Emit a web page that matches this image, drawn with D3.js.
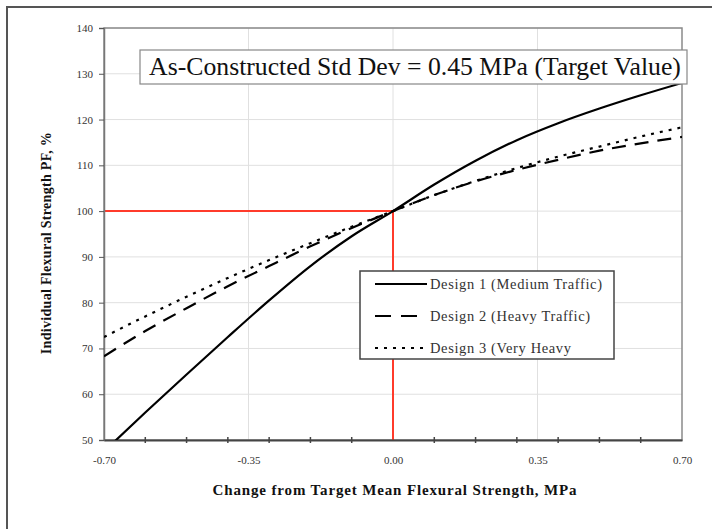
<!DOCTYPE html>
<html>
<head>
<meta charset="utf-8">
<script src="https://d3js.org/d3.v7.min.js"></script>
<style>
body { margin: 0; background: #fff; }
text { font-family: "Liberation Serif", "DejaVu Serif", serif; }
</style>
</head>
<body>
<svg width="712" height="529"></svg>
<script>

// data
var xs = [-0.7, -0.6, -0.5, -0.4, -0.3, -0.2, -0.1, 0, 0.1, 0.2, 0.3, 0.4, 0.5, 0.6, 0.7];
var design1 = [47.5, 56, 64.3, 72.5, 80.5, 88, 94.5, 100, 105.8, 111, 115.5, 119.2, 122.4, 125.3, 128];
var design2 = [68.3, 73.8, 78.8, 83.6, 88, 92.3, 96.3, 100, 103.5, 106.5, 109, 111.2, 113.2, 114.8, 116.2];
var design3 = [72.5, 77, 81.3, 85.4, 89.3, 93, 96.6, 100, 103.5, 106.6, 109.4, 111.9, 114.1, 116.3, 118.3];
var seriesNames = ["Design 1 (Medium Traffic)", "Design 2 (Heavy Traffic)", "Design 3 (Very Heavy"];
var xTickLabels = [-0.70, -0.35, 0.00, 0.35, 0.70];
var xMinorTicks = [-0.6, -0.5, -0.4, -0.3, -0.2, -0.1, 0.1, 0.2, 0.3, 0.4, 0.5, 0.6];
var yTicks = [50, 60, 70, 80, 90, 100, 110, 120, 130, 140];
var titleText = "As-Constructed Std Dev = 0.45 MPa (Target Value)";

var svg = d3.select("svg");
var pLeft = 104, pRight = 682, pTop = 28, pBottom = 440;

var x = d3.scaleLinear().domain([-0.7, 0.7]).range([pLeft, pRight]);
var y = d3.scaleLinear().domain([50, 140]).range([pBottom, pTop]);

// spread letters so a text takes the given width
function spreadTo(sel, target) {
  var n = sel.text().length;
  var w = sel.node().getComputedTextLength();
  var ls = (target - w) / (n - 1);
  sel.style("letter-spacing", ls + "px");
  return ls;
}

// outer frame (only left/top show, rest falls off the picture)
svg.append("rect")
  .attr("x", 7).attr("y", 7).attr("width", 740).attr("height", 560)
  .attr("fill", "none").attr("stroke", "#555").attr("stroke-width", 2);

// gridlines
svg.append("g").selectAll("line").data(yTicks.slice(1))
  .enter().append("line")
  .attr("x1", pLeft).attr("x2", pRight)
  .attr("y1", d => y(d)).attr("y2", d => y(d))
  .attr("stroke", "#e0e0e0").attr("stroke-width", 1);
svg.append("g").selectAll("line").data(xTickLabels.slice(1, -1))
  .enter().append("line")
  .attr("x1", d => x(d)).attr("x2", d => x(d))
  .attr("y1", pTop).attr("y2", pBottom)
  .attr("stroke", "#e0e0e0").attr("stroke-width", 1);

// plot border
svg.append("rect")
  .attr("x", pLeft).attr("y", pTop).attr("width", pRight - pLeft).attr("height", pBottom - pTop)
  .attr("fill", "none").attr("stroke", "#8a8a8a").attr("stroke-width", 1.5);

// red target lines
svg.append("line")
  .attr("x1", x(-0.7)).attr("x2", x(0)).attr("y1", y(100)).attr("y2", y(100))
  .attr("stroke", "#ff3b2b").attr("stroke-width", 2);
svg.append("line")
  .attr("x1", x(0)).attr("x2", x(0)).attr("y1", y(100)).attr("y2", y(50))
  .attr("stroke", "#ff3b2b").attr("stroke-width", 2);

// y axis
var yAxis = svg.append("g")
  .attr("transform", "translate(" + pLeft + ",0)")
  .call(d3.axisLeft(y).tickValues(yTicks).tickSize(5).tickPadding(6).tickFormat(d3.format("d")));
yAxis.select(".domain").attr("stroke", "#777").attr("stroke-width", 1.5);
yAxis.selectAll(".tick line").attr("stroke", "#555");
yAxis.selectAll("text").style("font-size", "11px").attr("fill", "#333")
  .style("font-family", "'Liberation Serif', serif");

// x axis: labels at 0.35 steps, small crossing ticks at 0.1 steps
var xAxis = svg.append("g")
  .attr("transform", "translate(0," + pBottom + ")")
  .call(d3.axisBottom(x).tickValues(xTickLabels).tickSize(0).tickPadding(16).tickFormat(d => d.toFixed(2)));
xAxis.select(".domain").attr("stroke", "#444").attr("stroke-width", 2);
xAxis.selectAll("text").style("font-size", "11px").attr("fill", "#333")
  .style("font-family", "'Liberation Serif', serif");
svg.append("g").selectAll("line").data(xMinorTicks)
  .enter().append("line")
  .attr("x1", d => x(d)).attr("x2", d => x(d))
  .attr("y1", pBottom - 3).attr("y2", pBottom + 3)
  .attr("stroke", "#444").attr("stroke-width", 1.5);

// curves
var line = d3.line()
  .x((d, i) => x(xs[i]))
  .y(d => y(d))
  .curve(d3.curveMonotoneX);

var styles = [
  { dash: null, width: 2.2 },
  { dash: "14,9", width: 2.2 },
  { dash: "3,6", width: 2.2 }
];
svg.append("clipPath").attr("id", "plotclip")
  .append("rect").attr("x", pLeft).attr("y", pTop).attr("width", pRight - pLeft).attr("height", pBottom - pTop);

[design1, design2, design3].forEach(function (s, i) {
  svg.append("path")
    .datum(s)
    .attr("d", line)
    .attr("clip-path", "url(#plotclip)")
    .attr("fill", "none")
    .attr("stroke", "#000")
    .attr("stroke-width", styles[i].width)
    .attr("stroke-dasharray", styles[i].dash);
});

// title box
var tb = svg.append("g");
tb.append("rect")
  .attr("x", 140).attr("y", 50).attr("width", 547).attr("height", 34)
  .attr("fill", "#fff").attr("stroke", "#888").attr("stroke-width", 1.2);
var tt = tb.append("text")
  .attr("x", 415).attr("y", 75)
  .attr("text-anchor", "middle")
  .style("font-size", "22px")
  .attr("fill", "#111")
  .text(titleText);
var w = tt.node().getComputedTextLength();
tt.style("font-size", (22 * 532 / w) + "px");

// legend
var lg = svg.append("g");
lg.append("rect")
  .attr("x", 360).attr("y", 271).attr("width", 254).attr("height", 88)
  .attr("fill", "#fff").attr("stroke", "#444").attr("stroke-width", 1.5);
var legendItems = lg.selectAll(".lineLegend").data(seriesNames)
  .enter().append("g")
  .attr("class", "lineLegend")
  .attr("transform", (d, i) => "translate(375," + (284 + i * 32) + ")");
legendItems.append("line")
  .attr("x1", 0).attr("x2", 52).attr("y1", 0).attr("y2", 0)
  .attr("stroke", "#000").attr("stroke-width", 2.2)
  .attr("stroke-dasharray", (d, i) => i == 1 ? "16,10" : styles[i].dash);
var legendTexts = legendItems.append("text")
  .attr("x", 55).attr("y", 4.5)
  .style("font-size", "14.5px")
  .attr("fill", "#333")
  .text(d => d);
var ls = spreadTo(d3.select(legendTexts.nodes()[0]), 172);
legendTexts.style("letter-spacing", ls + "px");

// axis titles
var xt = svg.append("text")
  .attr("x", 395).attr("y", 495)
  .attr("text-anchor", "middle")
  .style("font-size", "15px").style("font-weight", "bold")
  .attr("fill", "#111")
  .text("Change from Target Mean Flexural Strength, MPa");
spreadTo(xt, 364);

var yt = svg.append("text")
  .attr("text-anchor", "middle")
  .attr("transform", "translate(51,243)rotate(-90)")
  .style("font-size", "14px").style("font-weight", "bold")
  .attr("fill", "#111")
  .text("Individual Flexural Strength PF, %");
spreadTo(yt, 222);

</script>
</body>
</html>
